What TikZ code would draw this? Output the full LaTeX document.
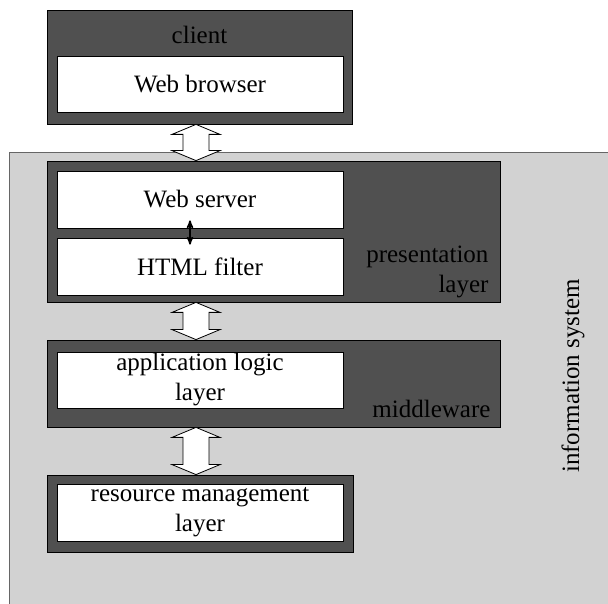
\documentclass[tikz,border=0pt]{standalone}
\usepackage{fontspec}
\setmainfont{Liberation Serif}
\usetikzlibrary{positioning}
\usetikzlibrary{calc}
\usetikzlibrary{arrows}
\definecolor{tiergray}{HTML}{505050}
\definecolor{sysgray}{HTML}{D2D2D2}
\tikzset{
    tier/.style={draw=black, fill=tiergray, inner sep=0pt, line width=0.8pt},
    comp/.style={draw=black, fill=white, minimum width=286pt, minimum height=56pt, inner sep=0pt, align=center, line width=0.8pt},
    link/.style={draw=black, fill=white, line width=0.8pt, line join=miter}
}

\begin{document}
\begin{tikzpicture}[x=1pt,y=1pt,font=\fontsize{25}{30}\selectfont]
            \useasboundingbox (0,0) rectangle (608,604);
            % information system background
            \fill[sysgray] (9,-5) rectangle (620,452);
            \draw[gray!80!black] (9,-5) |- (620,452);
            \node (sys) [rotate=90] at (573,228) {information system};

            % client
            \node (client) [tier, minimum width=305pt, minimum height=114pt] at (199.5,537) {};
            \node (browser) [comp] at (200,519.5) {Web browser};
            \node (clientlbl) at (199.5,569) {client};

            % presentation layer
            \node (pres) [tier, minimum width=453pt, minimum height=141pt] at (273.5,372.5) {};
            \node (server) [comp, minimum height=57pt] at (200,404.5) {Web server};
            \node (filter) [comp, minimum height=57pt] at (200,337.5) {HTML filter};
            \node (preslbl) [align=right, anchor=east] at (492,332) {presentation\\layer};

            % middleware
            \node (mid) [tier, minimum width=453pt, minimum height=87pt] at (273.5,220.5) {};
            \node (logic) [comp] at (200,224) {application logic\\layer};
            \node (midlbl) [anchor=east] at (494,195) {middleware};

            % resource management
            \node (res) [tier, minimum width=306pt, minimum height=77pt] at (200,90.5) {};
            \node (resmgmt) [comp, minimum height=57pt] at (200,91.5) {resource management\\layer};

            % hollow links between the tiers
            \foreach \upper/\lower in {client/pres, pres/mid, mid/res} {
                \coordinate (lt) at ([xshift=-4pt]browser.center |- \upper.south);
                \coordinate (lb) at ([xshift=-4pt]browser.center |- \lower.north);
                \draw[link] (lt) -- ++(24,-10) -- ++(-11,0) -- ($(lb)+(13,10)$) -- ++(11,0)
                    -- (lb) -- ++(-24,10) -- ++(11,0) -- ($(lt)+(-13,-10)$) -- ++(-11,0) -- cycle;
            }
            \draw[stealth'-stealth', line width=1.6pt] ([xshift=-10pt,yshift=8pt]server.south) -- ([xshift=-10pt,yshift=-7pt]filter.north);
        \end{tikzpicture}
\end{document}
